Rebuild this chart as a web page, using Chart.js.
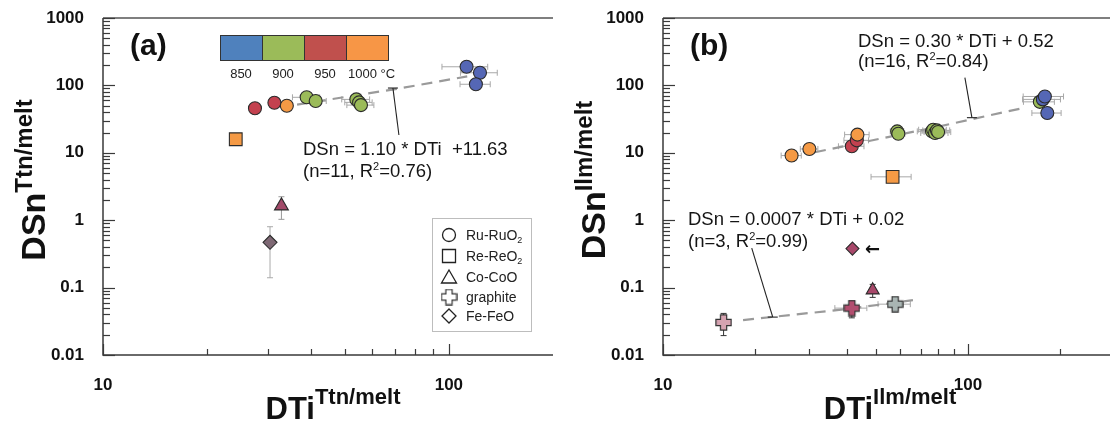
<!DOCTYPE html>
<html><head><meta charset="utf-8">
<script src="https://cdn.jsdelivr.net/npm/chart.js@4.4.0/dist/chart.umd.min.js"></script>
<style>
html,body{margin:0;padding:0;background:#fff;overflow:hidden;width:1110px;height:428px}
#wa{position:absolute;left:0;top:0;width:555px;height:428px}
#wb{position:absolute;left:555px;top:0;width:560px;height:428px}
</style></head><body>
<div id="wa"><canvas id="ca" width="555" height="428"></canvas></div>
<div id="wb"><canvas id="cb" width="560" height="428"></canvas></div>
<script>
// ---------------- DATA ----------------
const TEMPS = [850, 900, 950, 1000];
const TEMP_COLORS = {850:'#5567b5', 900:'#9bbb59', 950:'#c3414f', 1000:'#f59a45'};
const COLORBAR_COLORS = ['#4f81bd', '#9bbb59', '#c0504d', '#f79646'];
const X_TICKS_A = [10,20,30,40,50,60,70,80,90,100,200];
const X_TICKS_B = [10,20,30,40,50,60,70,80,90,100,200,300];
const X_LABELED = [10, 100];
const Y_TICKS = [0.01,0.02,0.03,0.04,0.05,0.06,0.07,0.08,0.09,
                 0.1,0.2,0.3,0.4,0.5,0.6,0.7,0.8,0.9,
                 1,2,3,4,5,6,7,8,9,10,20,30,40,50,60,70,80,90,
                 100,200,300,400,500,600,700,800,900,1000];
const Y_LABELED = [0.01, 0.1, 1, 10, 100, 1000];
const LEGEND_NAMES = ['Ru-RuO', 'Re-ReO', 'Co-CoO', 'graphite', 'Fe-FeO'];

// Panel (a): titanite / melt
const A_RU_X = [27.5, 31.3, 34.0, 38.8, 41.2, 54.0, 55.0, 55.7, 112.5, 123, 119.7];
const A_RU_Y = [45.7, 55.4, 50.0, 66.6, 58.7, 62.0, 56.0, 51.0, 189, 154, 104];
const A_RU_T = [950, 950, 1000, 900, 900, 900, 900, 900, 850, 850, 850];
const A_RU_XERR = [0, 0, 0, 3.5, 3, 5, 5, 5, 17, 15, 12];
const A_RE_X = [24.2], A_RE_Y = [15.9], A_RE_T = [1000];
const A_CO_X = [32.8], A_CO_Y = [1.63], A_CO_YERR = [0.6];
const A_FE_X = [30.4], A_FE_Y = [0.47], A_FE_YERR = [0.33];
const A_FIT_X = [36.4, 70, 113], A_FIT_Y = [52, 88, 136];

// Panel (b): ilmenite / melt
const B_RU_X = [26.4, 30.2, 41.6, 43.2, 43.4, 58.6, 59.1, 76.2, 76.9, 78.0, 79.1, 79.8, 172, 176, 178.7, 182];
const B_RU_Y = [9.1, 11.4, 12.5, 15.3, 18.6, 20.8, 19.2, 20.8, 22.0, 19.7, 21.5, 20.3, 57, 62, 68.5, 38.9];
const B_RU_T = [1000, 1000, 950, 950, 1000, 900, 900, 900, 900, 900, 900, 900, 900, 850, 850, 850];
const B_RU_XERR = [2, 2, 4, 4, 4, 3, 3, 8, 8, 8, 8, 8, 20, 25, 27, 20];
const B_RE_X = [56.6], B_RE_Y = [4.4], B_RE_T = [1000], B_RE_XERR = [8.5];
const B_CO_X = [48.7], B_CO_Y = [0.0916], B_CO_YERR = [0.02];
const B_FE_X = [41.8], B_FE_Y = [0.379];
const B_GR_X = [15.8, 41.6, 57.7], B_GR_Y = [0.0304, 0.0496, 0.0568];
const B_GR_XERR = [0, 5, 7], B_GR_YERR = [0.011, 0.014, 0];
const B_GR_C = ['#d6a3b1', '#b24e6f', '#a9b5b3'];
const B_FIT1_X = [31.5, 80, 151], B_FIT1_Y = [10.2, 24.5, 46];
const B_FIT2_X = [18.3, 40, 66], B_FIT2_Y = [0.033, 0.048, 0.065];

// ---------------- HELPERS ----------------
const FONT = '"Liberation Sans", Arial, Helvetica, sans-serif';
const pts = (xs, ys) => xs.map((x, i) => ({x, y: ys[i]}));

function makeCross(fill){
  const s = 17, c = document.createElement('canvas'); c.width = s; c.height = s;
  const g = c.getContext('2d'); const m = s/2, a = 3.1, L = 7.6;
  g.beginPath();
  g.moveTo(m-a,m-L); g.lineTo(m+a,m-L); g.lineTo(m+a,m-a); g.lineTo(m+L,m-a); g.lineTo(m+L,m+a);
  g.lineTo(m+a,m+a); g.lineTo(m+a,m+L); g.lineTo(m-a,m+L); g.lineTo(m-a,m+a); g.lineTo(m-L,m+a);
  g.lineTo(m-L,m-a); g.lineTo(m-a,m-a); g.closePath();
  if (fill) { g.fillStyle = fill; g.fill(); }
  g.strokeStyle = '#333'; g.lineWidth = 1.2; g.stroke();
  return c;
}

function drawRich(ctx, x, y, segs, align){
  let w = 0;
  segs.forEach(s => { ctx.font = s.f; s.w = ctx.measureText(s.t).width; w += s.w; });
  let cx = align === 'center' ? x - w/2 : x;
  ctx.textBaseline = 'alphabetic'; ctx.textAlign = 'left';
  segs.forEach(s => { ctx.font = s.f; ctx.fillText(s.t, cx, y - (s.dy || 0)); cx += s.w; });
}

function eqLines(ctx, x, y1, y2, line1, n, r2){
  const f = '18.5px ' + FONT, fs = '11px ' + FONT;
  ctx.fillStyle = '#151515';
  drawRich(ctx, x, y1, [{t: line1, f}], 'left');
  drawRich(ctx, x, y2, [{t: '(n=' + n + ', R', f}, {t: '2', f: fs, dy: 7}, {t: '=' + r2 + ')', f}], 'left');
}

function pointer(chart, ax, ay, dx, dy){
  const ctx = chart.ctx;
  const px = chart.scales.x.getPixelForValue(ax), py = chart.scales.y.getPixelForValue(ay);
  ctx.save(); ctx.strokeStyle = '#222'; ctx.lineWidth = 1.1;
  ctx.beginPath(); ctx.moveTo(px, py); ctx.lineTo(px + dx, py + dy); ctx.stroke();
  ctx.beginPath(); ctx.moveTo(px - 5, py); ctx.lineTo(px + 5, py); ctx.stroke();
  ctx.restore();
}

function axisTitles(chart, sup, xCenter, xBase, yBaseX, yCenterY){
  const ctx = chart.ctx;
  ctx.save(); ctx.fillStyle = '#111';
  drawRich(ctx, xCenter, xBase, [{t: 'DTi', f: 'bold 31px ' + FONT}, {t: sup, f: 'bold 22px ' + FONT, dy: 15}], 'center');
  ctx.translate(yBaseX, yCenterY); ctx.rotate(-Math.PI/2);
  drawRich(ctx, 0, 0, [{t: 'DSn', f: 'bold 34px ' + FONT}, {t: sup, f: 'bold 24px ' + FONT, dy: 13}], 'center');
  ctx.restore();
}

const frame = {
  id: 'frame',
  beforeDatasetsDraw(chart){
    const {ctx, chartArea: {left, right, top, bottom}} = chart;
    const xs = chart.scales.x, ys = chart.scales.y;
    ctx.save();
    ctx.strokeStyle = '#3a3a3a'; ctx.lineWidth = 1.5;
    ctx.beginPath(); ctx.moveTo(left, top); ctx.lineTo(left, bottom); ctx.lineTo(right, bottom); ctx.stroke();
    ctx.strokeStyle = '#555';
    ctx.beginPath(); ctx.moveTo(left, top); ctx.lineTo(right, top); ctx.stroke();
    ctx.strokeStyle = '#3a3a3a'; ctx.lineWidth = 1.2;
    Y_TICKS.forEach(v => {
      const p = Math.round(ys.getPixelForValue(v)) + 0.5, len = Y_LABELED.includes(v) ? 12 : 7;
      ctx.beginPath(); ctx.moveTo(left, p); ctx.lineTo(left + len, p); ctx.stroke();
    });
    xs.ticks.forEach(t => {
      const v = t.value;
      if (v >= xs.max) return;
      const p = Math.round(xs.getPixelForValue(v)) + 0.5, len = X_LABELED.includes(v) ? 11 : 6;
      ctx.beginPath(); ctx.moveTo(p, bottom); ctx.lineTo(p, bottom - len); ctx.stroke();
    });
    ctx.restore();
  }
};

const errorBars = {
  id: 'errorBars',
  beforeDatasetsDraw(chart){
    const ctx = chart.ctx, xs = chart.scales.x, ys = chart.scales.y;
    chart.data.datasets.forEach(ds => {
      if (!ds.errX && !ds.errY) return;
      ds.data.forEach((p, j) => {
        const px = xs.getPixelForValue(p.x), py = ys.getPixelForValue(p.y);
        ctx.save(); ctx.lineWidth = 1;
        const ex = ds.errX ? ds.errX[j] : 0, ey = ds.errY ? ds.errY[j] : 0;
        if (ex) {
          ctx.strokeStyle = ds.errXColor || '#a8a8a8';
          const x1 = xs.getPixelForValue(p.x - ex), x2 = xs.getPixelForValue(p.x + ex);
          ctx.beginPath(); ctx.moveTo(x1, py); ctx.lineTo(x2, py);
          ctx.moveTo(x1, py - 3); ctx.lineTo(x1, py + 3); ctx.moveTo(x2, py - 3); ctx.lineTo(x2, py + 3); ctx.stroke();
        }
        if (ey) {
          ctx.strokeStyle = ds.errYColor || '#a8a8a8';
          const y1 = ys.getPixelForValue(p.y - ey), y2 = ys.getPixelForValue(p.y + ey);
          ctx.beginPath(); ctx.moveTo(px, y1); ctx.lineTo(px, y2);
          ctx.moveTo(px - 3, y1); ctx.lineTo(px + 3, y1); ctx.moveTo(px - 3, y2); ctx.lineTo(px + 3, y2); ctx.stroke();
        }
        ctx.restore();
      });
    });
  }
};

function scaleOpts(spec){
  return {
    x: {type: 'logarithmic', min: 10, max: spec.xMax,
        grid: {display: false}, border: {display: false},
        afterBuildTicks: s => { s.ticks = spec.xTicks.map(v => ({value: v})); },
        afterFit: s => { s.height = spec.xAxisH; s.paddingLeft = 0; s.paddingRight = 0; },
        ticks: {autoSkip: false, maxRotation: 0, minRotation: 0, padding: 12, color: '#111',
                font: {family: FONT, size: 17, weight: 'bold'},
                callback: v => X_LABELED.includes(v) ? String(v) : ''}},
    y: {type: 'logarithmic', min: 0.01, max: 1000,
        grid: {display: false}, border: {display: false},
        afterBuildTicks: s => { s.ticks = Y_TICKS.map(v => ({value: v})); },
        afterFit: s => { s.width = spec.yAxisW; s.paddingTop = 0; s.paddingBottom = 0; },
        ticks: {autoSkip: false, padding: 11, color: '#111',
                font: {family: FONT, size: 17, weight: 'bold'},
                callback: v => Y_LABELED.includes(v) ? String(v) : ''}}
  };
}

function fitDataset(xs, ys){
  return {type: 'line', data: pts(xs, ys), borderColor: '#9a9a9a', borderWidth: 2.2,
          borderDash: [11, 7], pointRadius: 0, fill: false, tension: 0, order: 5};
}
function markerDataset(xs, ys, style, radius, colors, extra){
  return Object.assign({data: pts(xs, ys), pointStyle: style, pointRadius: radius,
    backgroundColor: colors, borderColor: '#2b2b2b', borderWidth: 1.1, order: 1}, extra || {});
}

function drawLegendShape(ctx, kind, x, y){
  ctx.save(); ctx.strokeStyle = '#222'; ctx.lineWidth = 1.3; ctx.beginPath();
  if (kind === 0) ctx.arc(x, y, 6.5, 0, Math.PI*2);
  else if (kind === 1) ctx.rect(x - 6.5, y - 6.5, 13, 13);
  else if (kind === 2) { ctx.moveTo(x, y - 7); ctx.lineTo(x + 7.5, y + 6); ctx.lineTo(x - 7.5, y + 6); ctx.closePath(); }
  else if (kind === 4) { ctx.moveTo(x, y - 7); ctx.lineTo(x + 7, y); ctx.lineTo(x, y + 7); ctx.lineTo(x - 7, y); ctx.closePath(); }
  ctx.stroke(); ctx.restore();
  if (kind === 3) { const c = makeCross(null); ctx.drawImage(c, x - c.width/2, y - c.height/2); }
}

const decorA = {
  id: 'decorA',
  afterDraw(chart){
    const ctx = chart.ctx;
    ctx.save();
    ctx.fillStyle = '#111'; ctx.font = 'bold 30px ' + FONT; ctx.textBaseline = 'alphabetic'; ctx.textAlign = 'left';
    ctx.fillText('(a)', 130, 55);
    // colour bar
    const bx = 220, bw = 42, by = 35, bh = 25;
    COLORBAR_COLORS.forEach((c, i) => { ctx.fillStyle = c; ctx.fillRect(bx + i*bw, by, bw, bh); });
    ctx.strokeStyle = '#333'; ctx.lineWidth = 1;
    COLORBAR_COLORS.forEach((c, i) => { ctx.strokeRect(bx + i*bw + 0.5, by + 0.5, bw, bh); });
    ctx.fillStyle = '#222'; ctx.font = '13px ' + FONT; ctx.textAlign = 'center';
    TEMPS.forEach((t, i) => {
      if (i < 3) ctx.fillText(String(t), bx + i*bw + bw/2, 78);
      else { ctx.textAlign = 'left'; ctx.fillText(t + ' \u00B0C', bx + i*bw + 2, 78); }
    });
    // legend box
    ctx.strokeStyle = '#bdbdbd'; ctx.lineWidth = 1; ctx.strokeRect(432.5, 218.5, 99, 113);
    const ly = [235, 256, 277, 297, 316];
    LEGEND_NAMES.forEach((n, i) => {
      drawLegendShape(ctx, i, 449, ly[i]);
      ctx.fillStyle = '#222';
      drawRich(ctx, 466, ly[i] + 5, i < 2 ? [{t: n, f: '14px ' + FONT}, {t: '2', f: '9px ' + FONT, dy: -3}] : [{t: n, f: '14px ' + FONT}], 'left');
    });
    ctx.restore();
    ctx.save();
    eqLines(ctx, 303, 155, 177, 'DSn = 1.10 * DTi  +11.63', 11, '0.76');
    ctx.restore();
    pointer(chart, 68.9, 91.4, 6, 47);
    axisTitles(chart, 'Ttn/melt', 333, 419, 45, 180);
  }
};

const decorB = {
  id: 'decorB',
  afterDraw(chart){
    const ctx = chart.ctx;
    ctx.save();
    ctx.fillStyle = '#111'; ctx.font = 'bold 30px ' + FONT; ctx.textBaseline = 'alphabetic'; ctx.textAlign = 'left';
    ctx.fillText('(b)', 135, 55);
    ctx.font = 'bold 18px "DejaVu Sans", sans-serif';
    ctx.fillText('\u2190', 310, 255);
    ctx.restore();
    ctx.save();
    eqLines(ctx, 303, 47, 66.5, 'DSn = 0.30 * DTi + 0.52', 16, '0.84');
    eqLines(ctx, 133, 225, 246.5, 'DSn = 0.0007 * DTi + 0.02', 3, '0.99');
    ctx.restore();
    pointer(chart, 103, 33.2, -7, -40);
    pointer(chart, 22.9, 0.0365, -21, -69);
    axisTitles(chart, 'Ilm/melt', 335, 419, 50, 180);
  }
};

const baseOptions = (padRight, spec) => ({
  responsive: false, animation: false, devicePixelRatio: 1, events: [],
  layout: {autoPadding: false, padding: {top: 18, right: padRight, left: 0, bottom: 0}},
  plugins: {legend: {display: false}, tooltip: {enabled: false}},
  scales: scaleOpts(spec)
});

// ---------------- PANEL (a) ----------------
new Chart(document.getElementById('ca'), {
  type: 'scatter',
  data: {datasets: [
    fitDataset(A_FIT_X, A_FIT_Y),
    markerDataset(A_RU_X, A_RU_Y, 'circle', 6.5, A_RU_T.map(t => TEMP_COLORS[t]), {errX: A_RU_XERR}),
    markerDataset(A_RE_X, A_RE_Y, 'rect', 9, A_RE_T.map(t => TEMP_COLORS[t])),
    markerDataset(A_CO_X, A_CO_Y, 'triangle', 8, ['#a24a69'], {errY: A_CO_YERR, errYColor: '#999'}),
    markerDataset(A_FE_X, A_FE_Y, 'rectRot', 7, ['#7e6874'], {errY: A_FE_YERR, errYColor: '#aaa'})
  ]},
  options: baseOptions(2, {xMax: 200, xTicks: X_TICKS_A, xAxisH: 73, yAxisW: 103}),
  plugins: [frame, errorBars, decorA]
});

// ---------------- PANEL (b) ----------------
new Chart(document.getElementById('cb'), {
  type: 'scatter',
  data: {datasets: [
    fitDataset(B_FIT1_X, B_FIT1_Y),
    fitDataset(B_FIT2_X, B_FIT2_Y),
    markerDataset(B_RU_X, B_RU_Y, 'circle', 6.5, B_RU_T.map(t => TEMP_COLORS[t]), {errX: B_RU_XERR}),
    markerDataset(B_RE_X, B_RE_Y, 'rect', 9, B_RE_T.map(t => TEMP_COLORS[t]), {errX: B_RE_XERR}),
    markerDataset(B_CO_X, B_CO_Y, 'triangle', 7.5, ['#a8486a'], {errY: B_CO_YERR, errYColor: '#333'}),
    markerDataset(B_FE_X, B_FE_Y, 'rectRot', 6.5, ['#a8486a']),
    markerDataset(B_GR_X, B_GR_Y, B_GR_C.map(c => makeCross(c)), 8, B_GR_C,
      {errX: B_GR_XERR, errY: B_GR_YERR, errYColor: '#333', errXColor: '#aaa'})
  ]},
  options: baseOptions(1.5, {xMax: 300, xTicks: X_TICKS_B, xAxisH: 73, yAxisW: 108}),
  plugins: [frame, errorBars, decorB]
});
</script>
</body></html>
